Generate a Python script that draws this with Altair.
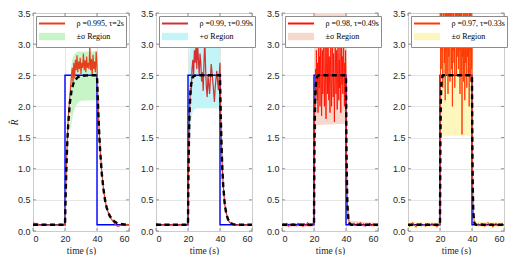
import altair as alt
import pandas as pd

SANS = "Liberation Sans"
SERIF = "Liberation Serif"

x_ticks = [0, 20, 40, 60]
y_ticks = [0, 0.5, 1, 1.5, 2, 2.5, 3, 3.5]

# reference step (blue)
ref_t = [0, 20, 20, 40, 40, 60]
ref_v = [0.1, 0.1, 2.5, 2.5, 0.1, 0.1]

legend_labels = ["ρ =0.995, τ=2s", "ρ =0.99, τ=0.99s", "ρ =0.98, τ=0.49s", "ρ =0.97, τ=0.33s"]
band_labels = ["±σ Region", "+σ Region", "±σ Region", "±σ Region"]
red_colors = ["#e4401f", "#d03232", "#ff1200", "#ff3800"]
band_colors = ["#c8f5c8", "#c2f4f8", "#f6d8cc", "#fdf7bd"]
red_widths = [1.2, 1.2, 0.9, 0.9]

# ---------------- panel 1 ----------------
p1_model_t = [0, 20, 20.5, 21, 21.5, 22, 23, 24, 25, 26, 28, 30, 35, 40, 40.5, 41, 41.5, 42,
              43, 44, 45, 46, 47, 48, 50, 52, 54, 57, 60]
p1_model_v = [0.1, 0.1, 0.68, 1.12, 1.46, 1.71, 2.05, 2.24, 2.35, 2.41, 2.47, 2.49, 2.5, 2.5,
              2.11, 1.78, 1.5, 1.28, 0.92, 0.68, 0.5, 0.38, 0.3, 0.24, 0.17, 0.133, 0.116, 0.105, 0.1]
p1_red_t = [0, 1, 2, 3, 4, 5, 6, 7, 8, 9, 10, 11, 12, 13, 14, 15, 16, 17, 18, 19, 20,
            20.5, 21, 21.5, 22, 22.5, 23, 23.5, 24, 24.5, 25,
            25.5, 26, 26.5, 27, 27.5, 28, 28.5, 29, 29.5, 30,
            30.5, 31, 31.5, 32, 32.5, 33, 33.5, 34, 34.5, 35,
            35.5, 36, 36.5, 37, 37.5, 38, 38.5, 39, 39.5, 40,
            40.5, 41, 41.5, 42,
            43, 44, 45, 46, 47, 48, 49, 50, 51, 52, 53, 54, 55, 56, 57, 58, 59, 60]
p1_red_v = [0.13, 0.125, 0.12, 0.11, 0.1, 0.095, 0.1, 0.105, 0.1, 0.095, 0.1, 0.1, 0.105, 0.1,
            0.095, 0.1, 0.1, 0.105, 0.1, 0.1, 0.1,
            0.7, 1.15, 1.5, 1.78, 1.98, 2.15, 2.32, 2.48, 2.62, 2.38,
            2.7, 2.45, 2.75, 2.58, 2.82, 2.55, 2.72, 2.6, 2.78, 2.52,
            2.7, 2.62, 2.85, 2.58, 2.74, 2.55, 2.8, 2.62, 2.7, 2.6,
            2.97, 2.58, 2.76, 2.5, 2.83, 2.6, 2.72, 2.55, 2.88, 2.65,
            2.2, 1.82, 1.53, 1.3,
            0.94, 0.69, 0.5, 0.38, 0.3, 0.23, 0.19, 0.16, 0.12, 0.09, 0.075, 0.08, 0.1, 0.105,
            0.1, 0.1, 0.105, 0.1]
p1_band_t = [23.3, 23.6, 24, 24.5, 25, 26, 27, 28, 30, 40]
p1_band_lo = [1.65, 1.62, 1.7, 1.8, 1.87, 1.96, 2.02, 2.06, 2.09, 2.1]
p1_band_hi = [1.7, 2.5, 2.66, 2.74, 2.79, 2.84, 2.87, 2.88, 2.88, 2.88]

# ---------------- panel 2 ----------------
p2_model_t = [0, 20, 20.25, 20.5, 20.75, 21, 21.5, 22, 22.5, 23, 24, 25, 40, 40.25, 40.5, 41,
              41.5, 42, 43, 44, 45, 46, 48, 50, 60]
p2_model_v = [0.1, 0.1, 0.82, 1.33, 1.68, 1.92, 2.22, 2.36, 2.43, 2.47, 2.49, 2.5, 2.5, 2.13,
              1.82, 1.33, 0.98, 0.73, 0.42, 0.27, 0.19, 0.14, 0.11, 0.1, 0.1]
p2_red_t = [0, 1, 2, 3, 4, 5, 6, 7, 8, 9, 10, 11, 12, 13, 14, 15, 16, 17, 18, 19, 20,
            20.25, 20.5, 20.75,
            21, 21.5, 22, 22.5, 23, 23.5, 24, 24.5, 25, 25.5,
            26, 26.5, 27, 27.5, 28, 28.5, 29, 29.5, 30, 30.5,
            31, 31.5, 32, 32.5, 33, 33.5, 34, 34.5, 35, 35.5,
            36, 36.5, 37, 37.5, 38, 38.5, 39, 39.5, 40,
            40.25, 40.5, 41, 41.5, 42,
            43, 44, 45, 46, 47, 48, 49, 50, 51, 52, 53, 54, 55, 56, 57, 58, 59, 60]
p2_red_v = [0.12, 0.11, 0.1, 0.095, 0.1, 0.105, 0.1, 0.09, 0.1, 0.1, 0.105, 0.1, 0.095, 0.1,
            0.1, 0.105, 0.1, 0.095, 0.1, 0.1, 0.1,
            0.8, 1.35, 1.7,
            1.95, 2.3, 2.2, 2.6, 2.75, 2.5, 2.9, 2.7, 3.0, 2.6,
            3.02, 2.75, 2.5, 2.85, 2.7, 2.4, 2.55, 2.25, 2.7, 3.07,
            2.6, 2.3, 2.15, 2.5, 2.35, 2.2, 2.45, 2.68, 2.55, 2.4,
            2.25, 2.07, 2.3, 2.45, 2.57, 2.4, 2.26, 2.5, 2.7,
            2.15, 1.8, 1.35, 0.97, 0.74,
            0.42, 0.28, 0.18, 0.14, 0.12, 0.11, 0.1, 0.095, 0.1, 0.105, 0.1, 0.1, 0.095, 0.1,
            0.105, 0.1, 0.1, 0.1]
p2_band_t = [20.3, 20.6, 21, 21.5, 22, 23, 24, 26, 40]
p2_band_lo = [0.4, 0.9, 1.3, 1.6, 1.78, 1.92, 1.96, 1.97, 1.97]
p2_band_hi = [2.1, 2.7, 2.92, 3.0, 3.03, 3.05, 3.05, 3.05, 3.05]

# sampling times of the two fast panels
fast_t = [0, 1, 2, 3, 4, 5, 6, 7, 8, 9, 10, 11, 12, 13, 14, 15, 16, 17, 18, 19, 20,
          20.25, 20.5, 20.75, 21, 21.25, 21.5, 21.75, 22,
          22.25, 22.5, 22.75, 23, 23.25, 23.5, 23.75, 24,
          24.25, 24.5, 24.75, 25, 25.25, 25.5, 25.75, 26,
          26.25, 26.5, 26.75, 27, 27.25, 27.5, 27.75, 28,
          28.25, 28.5, 28.75, 29, 29.25, 29.5, 29.75, 30,
          30.25, 30.5, 30.75, 31, 31.25, 31.5, 31.75, 32,
          32.25, 32.5, 32.75, 33, 33.25, 33.5, 33.75, 34,
          34.25, 34.5, 34.75, 35, 35.25, 35.5, 35.75, 36,
          36.25, 36.5, 36.75, 37, 37.25, 37.5, 37.75, 38,
          38.25, 38.5, 38.75, 39, 39.25, 39.5, 39.75, 40,
          40.25, 40.5, 40.75, 41, 41.5, 42, 43,
          44, 45, 46, 47, 48, 49, 50, 51, 52, 53, 54, 55, 56, 57, 58, 59, 60]

# ---------------- panel 3 ----------------
p3_model_t = [0, 20, 20.25, 20.5, 20.75, 21, 21.5, 22, 23, 40, 40.25, 40.5, 40.75, 41, 41.5,
              42, 43, 44, 60]
p3_model_v = [0.1, 0.1, 1.22, 1.81, 2.13, 2.3, 2.44, 2.48, 2.5, 2.5, 1.48, 0.89, 0.55, 0.36,
              0.19, 0.13, 0.103, 0.1, 0.1]
p3_red_v = [0.08, 0.12, 0.1, 0.13, 0.07, 0.11, 0.09, 0.12, 0.1, 0.08, 0.13, 0.1, 0.11, 0.07,
            0.12, 0.09, 0.14, 0.1, 0.08, 0.12, 0.1,
            1.4, 2.1, 2.0, 2.6, 2.2, 2.9, 2.4, 2.1,
            2.7, 1.9, 2.5, 3.1, 2.3, 2.8, 2.0, 2.6,
            3.3, 2.5, 1.85, 2.4, 2.9, 2.2, 2.7, 3.2,
            2.6, 2.0, 2.45, 2.95, 2.3, 1.8, 2.5, 3.0,
            2.7, 2.2, 3.4, 2.6, 2.1, 2.8, 2.35, 1.9,
            2.55, 3.1, 2.4, 2.0, 2.7, 3.3, 2.5, 2.15,
            2.85, 2.3, 1.75, 2.4, 3.0, 2.6, 2.2, 2.9,
            2.45, 1.95, 2.65, 3.15, 2.5, 2.1, 2.75, 2.3,
            2.95, 2.4, 1.9, 2.6, 3.05, 2.35, 2.8, 2.2,
            2.55, 3.2, 2.45, 2.0, 2.7, 2.3, 2.9, 2.5,
            1.5, 0.92, 0.58, 0.38, 0.21, 0.15, 0.12,
            0.09, 0.13, 0.08, 0.11, 0.1, 0.14, 0.09, 0.12, 0.07, 0.11, 0.1, 0.13, 0.08, 0.12,
            0.1, 0.09, 0.11]
p3_band_t = [0, 19.95, 20.1, 20.3, 20.6, 21, 21.5, 22, 40, 40.1, 40.3, 40.6, 41, 41.5, 42, 60]
p3_band_lo = [0.07, 0.07, 0.3, 0.8, 1.25, 1.5, 1.65, 1.7, 1.72, 1.4, 0.8, 0.45, 0.25, 0.13,
              0.09, 0.07]
p3_band_hi = [0.13, 0.13, 2.6, 3.7, 3.7, 3.7, 3.7, 3.7, 3.7, 3.7, 1.7, 0.9, 0.5, 0.26, 0.17,
              0.13]

# ---------------- panel 4 ----------------
p4_model_t = [0, 20, 20.25, 20.5, 20.75, 21, 21.5, 22, 40, 40.25, 40.5, 40.75, 41, 41.5, 42,
              43, 60]
p4_model_v = [0.1, 0.1, 1.46, 2.05, 2.3, 2.41, 2.48, 2.5, 2.5, 1.28, 0.68, 0.38, 0.24, 0.13,
              0.108, 0.1, 0.1]
p4_red_v = [0.12, 0.07, 0.11, 0.14, 0.09, 0.06, 0.12, 0.1, 0.13, 0.08, 0.11, 0.07, 0.12, 0.1,
            0.09, 0.13, 0.08, 0.11, 0.06, 0.1, 0.1,
            2.2, 3.6, 2.6, 3.9, 2.9, 3.4, 2.3, 3.7,
            3.0, 4.1, 2.7, 3.3, 2.1, 3.8, 2.9, 3.5,
            2.5, 4.0, 3.1, 2.2, 3.6, 2.8, 3.9, 3.2,
            2.4, 3.7, 3.0, 4.2, 2.6, 3.4, 2.0, 3.6,
            2.9, 3.8, 2.7, 3.3, 2.3, 4.0, 3.1, 3.6,
            2.5, 3.9, 2.8, 4.3, 3.2, 2.6, 3.7, 2.9,
            3.5, 2.2, 3.8, 3.0, 2.5, 3.6, 1.55, 3.4,
            2.8, 4.0, 2.4, 3.7, 3.1, 2.1, 3.5, 2.7,
            3.9, 3.0, 2.3, 3.6, 2.8, 4.1, 2.5, 3.3,
            2.0, 3.7, 2.9, 3.5, 2.4, 3.8, 2.6, 3.0,
            1.3, 0.7, 0.4, 0.25, 0.14, 0.11, 0.09,
            0.12, 0.08, 0.13, 0.1, 0.07, 0.11, 0.14, 0.09, 0.12, 0.06, 0.1, 0.13, 0.08, 0.11,
            0.1, 0.12, 0.09]
p4_band_t = [0, 19.95, 20.05, 20.2, 20.4, 20.7, 21.2, 22, 39.9, 40.1, 40.3, 40.6, 41, 41.5, 42, 60]
p4_band_lo = [0.06, 0.06, 0.5, 0.9, 1.2, 1.4, 1.5, 1.53, 1.53, 1.2, 0.55, 0.3, 0.13, 0.08,
              0.065, 0.06]
p4_band_hi = [0.14, 0.14, 1.2, 3.7, 3.7, 3.7, 3.7, 3.7, 3.7, 3.7, 1.9, 0.9, 0.38, 0.2, 0.15,
              0.14]

panels = [
    (p1_model_t, p1_model_v, p1_red_t, p1_red_v, p1_band_t, p1_band_lo, p1_band_hi),
    (p2_model_t, p2_model_v, p2_red_t, p2_red_v, p2_band_t, p2_band_lo, p2_band_hi),
    (p3_model_t, p3_model_v, fast_t, p3_red_v, p3_band_t, p3_band_lo, p3_band_hi),
    (p4_model_t, p4_model_v, fast_t, p4_red_v, p4_band_t, p4_band_lo, p4_band_hi),
]

W, H = 96, 218
TICK = 3
FRAME = "#7a7a7a"
# legend symbols: 9px nominal size, drawn 26px wide
LINE_PATH = "M-2.9,0H2.9"
RECT_PATH = "M-2.9,-0.82H2.9V0.82H-2.9Z"


def line_df(ts, vs):
    return pd.DataFrame({"t": ts, "v": vs, "i": list(range(len(ts)))})


def legend_def():
    return alt.Legend(
        title=None, orient="top-left", offset=3, padding=2,
        fillColor="white", strokeColor="#8c8c8c",
        symbolSize=81, symbolStrokeWidth=2, symbolOpacity=1, symbolOffset=8.5,
        labelFont=SERIF, labelFontSize=8, labelColor="#000000", labelOffset=19,
        labelLimit=300, rowPadding=0, zindex=1,
    )


def make_panel(k):
    mt, mv, rt, rv, bt, blo, bhi = panels[k]
    first = k == 0
    xenc = alt.X("t:Q", scale=alt.Scale(domain=[0, 60], nice=False),
                 axis=alt.Axis(values=x_ticks, title="time (s)", format="d"))
    yaxis = alt.Axis(values=y_ticks, title="R̂" if first else None,
                     minExtent=14 if first else 16, maxExtent=14 if first else 16)
    yenc = alt.Y("v:Q", scale=alt.Scale(domain=[0, 3.5], nice=False), axis=yaxis)

    band = alt.Chart(pd.DataFrame({"t": bt, "v": blo, "v2": bhi})).mark_area(
        color=band_colors[k], clip=True, opacity=1
    ).encode(x=xenc, y=yenc, y2="v2:Q")

    ref = alt.Chart(line_df(ref_t, ref_v)).mark_line(
        color="#0000ff", strokeWidth=1.4, clip=True
    ).encode(x=xenc, y=yenc, order="i:Q")

    red = alt.Chart(line_df(rt, rv)).mark_line(
        color=red_colors[k], strokeWidth=red_widths[k], clip=True
    ).encode(x=xenc, y=yenc, order="i:Q")

    model = alt.Chart(line_df(mt, mv)).mark_line(
        color="#000000", strokeWidth=2.4, strokeDash=[5, 3.5], clip=True
    ).encode(x=xenc, y=yenc, order="i:Q")

    # inward tick marks on all four sides (MATLAB box style)
    ydf = pd.DataFrame({"v": y_ticks})
    xdf = pd.DataFrame({"t": x_ticks})
    tick_style = dict(color=FRAME, strokeWidth=0.8)
    t_left = alt.Chart(ydf).mark_rule(**tick_style).encode(y=yenc, x=alt.value(0), x2=alt.value(TICK))
    t_right = alt.Chart(ydf).mark_rule(**tick_style).encode(y=yenc, x=alt.value(W - TICK), x2=alt.value(W))
    t_bottom = alt.Chart(xdf).mark_rule(**tick_style).encode(x=xenc, y=alt.value(H - TICK), y2=alt.value(H))
    t_top = alt.Chart(xdf).mark_rule(**tick_style).encode(x=xenc, y=alt.value(0), y2=alt.value(TICK))

    bl = band_labels[k]
    dom = [legend_labels[k], bl]
    legend_layer = alt.Chart(pd.DataFrame({"entry": dom})).mark_point(
        filled=True, opacity=0
    ).encode(
        color=alt.Color("entry:N", scale=alt.Scale(domain=dom, range=["transparent", band_colors[k]]),
                        legend=legend_def()),
        stroke=alt.Stroke("entry:N", scale=alt.Scale(domain=dom, range=[red_colors[k], "transparent"]),
                          legend=legend_def()),
        shape=alt.Shape("entry:N", scale=alt.Scale(domain=dom, range=[LINE_PATH, RECT_PATH]),
                        legend=legend_def()),
    )

    return alt.layer(band, ref, red, model, t_left, t_right, t_bottom, t_top,
                     legend_layer).properties(width=W, height=H)


chart = alt.hconcat(*[make_panel(k) for k in range(4)], spacing=9).resolve_scale(
    color="independent", stroke="independent", shape="independent"
).properties(
    padding={"left": 0, "top": 0, "right": 0, "bottom": 0},
    background="white",
).configure_view(
    stroke=FRAME, strokeWidth=1
).configure_axis(
    grid=True, gridColor="#e0e0e0", gridWidth=0.8,
    domain=False, ticks=False,
    labelFont=SANS, labelFontSize=9, labelColor="#262626", labelPadding=3,
    titleFont=SERIF, titleFontSize=9.5, titleFontWeight="normal", titleColor="#262626",
).configure_axisX(
    titlePadding=2, labelPadding=3,
).configure_axisY(
    titleFontSize=10, titleFontStyle="italic", titlePadding=0,
)

chart.save("out.html", embed_options={"renderer": "svg", "actions": False})
